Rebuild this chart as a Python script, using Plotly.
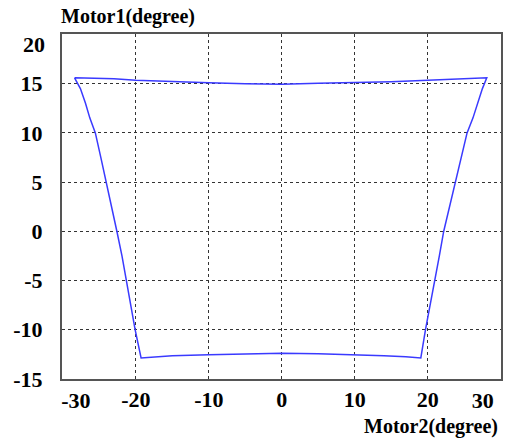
import plotly.graph_objects as go

motor2 = [-28.4, -23.0, -20.0, -15.0, -10.0, -5.0, 0.0, 5.0, 10.0, 15.0, 20.0, 24.0, 28.1,
          27.5, 26.9, 26.2, 25.4, 24.6, 23.7, 22.9, 22.2, 21.6, 20.97, 20.3, 19.7, 19.06,
          17.0, 14.0, 10.0, 5.0, 0.0, -5.0, -10.0, -15.0, -19.28,
          -20.1, -20.7, -21.28, -21.9, -22.6, -23.3, -24.0, -24.8, -25.55, -26.3, -26.9, -27.6, -28.4]
motor1 = [15.6, 15.5, 15.35, 15.2, 15.1, 15.0, 14.95, 15.05, 15.1, 15.2, 15.35, 15.5, 15.6,
          14.5, 13.0, 11.5, 10.0, 7.5, 5.0, 2.5, 0.0, -2.5, -5.0, -7.5, -10.0, -12.88,
          -12.75, -12.65, -12.55, -12.45, -12.4, -12.45, -12.55, -12.65, -12.88,
          -10.0, -7.5, -5.0, -2.5, 0.0, 2.5, 5.0, 7.5, 10.0, 11.5, 13.0, 14.5, 15.6]

x_ticks = [-30, -20, -10, 0, 10, 20, 30]
x_labels = ["-30", "-20", "-10", "0", "10", "20", "30"]
y_ticks = [-15, -10, -5, 0, 5, 10, 15, 20]
y_labels = ["-15", "-10", "-5", "0", "5", "10", "15", "20"]

font_family = "Liberation Serif, Times New Roman, serif"
tick_font = dict(family=font_family, size=22, color="black", weight="bold")


def bold(s):
    return "<b>" + s + "</b>"


fig = go.Figure()
fig.add_trace(go.Scatter(x=motor2, y=motor1, mode="lines",
                         line=dict(color="#3a3aff", width=1.5), showlegend=False))

axis_common = dict(showgrid=True, gridcolor="#333333", gridwidth=1, griddash="3px,3px",
                   zeroline=False, showline=True, linecolor="#555555", linewidth=2,
                   mirror=True, ticks="", tickfont=tick_font, ticklabeloverflow="allow")

x_range = [-30.12, 30.05]
y_range = [-15.02, 20.05]

# main axes: interior labels (end labels drawn on overlay axes with a small shift, as in the original)
fig.update_xaxes(range=x_range, tickvals=x_ticks,
                 ticktext=[bold(t) if t not in ("-30", "30") else "" for t in x_labels],
                 ticklabelstandoff=0, **axis_common)
fig.update_yaxes(range=y_range, tickvals=y_ticks,
                 ticktext=[bold(t) if t != "20" else "" for t in y_labels],
                 ticklabelstandoff=13, **axis_common)

overlay_x = dict(overlaying="x", matches="x", anchor="y", side="bottom", showgrid=False,
                 showline=False, zeroline=False, ticks="", tickfont=tick_font,
                 ticklabelstandoff=6, ticklabeloverflow="allow")
fig.update_layout(
    xaxis2=dict(tickvals=[x_ticks[-1]], ticktext=[bold(x_labels[-1])], ticklabelshift=-18, **overlay_x),
    xaxis3=dict(tickvals=[x_ticks[0]], ticktext=[bold(x_labels[0])], ticklabelshift=13, **overlay_x),
    yaxis2=dict(overlaying="y", matches="y", anchor="x", side="left", showgrid=False,
                showline=False, zeroline=False, ticks="", tickfont=tick_font,
                ticklabelstandoff=16, ticklabeloverflow="allow",
                tickvals=[y_ticks[-1]], ticktext=[bold(y_labels[-1])], ticklabelshift=10),
)
# invisible helper traces so the overlay axes are drawn
fig.add_trace(go.Scatter(x=[motor2[0]], y=[motor1[0]], xaxis="x2", yaxis="y", mode="lines",
                         showlegend=False, hoverinfo="skip"))
fig.add_trace(go.Scatter(x=[motor2[0]], y=[motor1[0]], xaxis="x3", yaxis="y", mode="lines",
                         showlegend=False, hoverinfo="skip"))
fig.add_trace(go.Scatter(x=[motor2[0]], y=[motor1[0]], xaxis="x", yaxis="y2", mode="lines",
                         showlegend=False, hoverinfo="skip"))

fig.add_annotation(x=0, xref="paper", xanchor="left", y=1, yref="paper", yanchor="bottom",
                   yshift=4, xshift=-3, text="<b>Motor1(degree)</b>", showarrow=False,
                   font=dict(family=font_family, size=20, color="black"))
fig.add_annotation(x=1, xref="paper", xanchor="right", y=0, yref="paper", yanchor="top",
                   yshift=-34, xshift=-1, text="<b>Motor2(degree)</b>", showarrow=False,
                   font=dict(family=font_family, size=20, color="black"))

fig.update_layout(width=506, height=441, margin=dict(l=62, r=3, t=34, b=62),
                  plot_bgcolor="white", paper_bgcolor="white")

fig.write_html("out.html")
